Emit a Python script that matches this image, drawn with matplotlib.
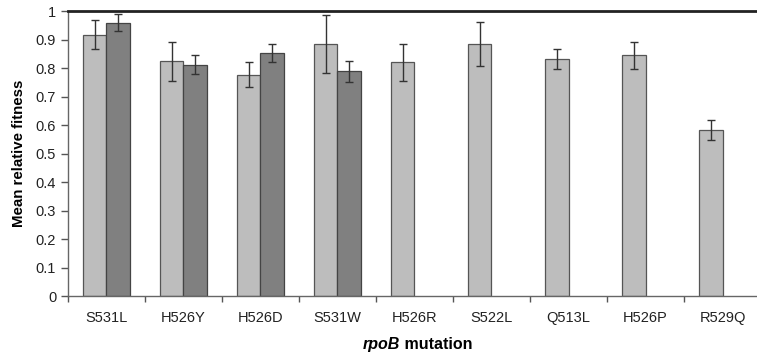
import numpy as np
import matplotlib.pyplot as plt

plt.rcParams['font.family'] = ['Liberation Sans', 'DejaVu Sans']

mutations = ["S531L", "H526Y", "H526D", "S531W", "H526R", "S522L", "Q513L", "H526P", "R529Q"]
light_vals = [0.917, 0.824, 0.777, 0.884, 0.820, 0.884, 0.831, 0.844, 0.584]
light_err = [0.050, 0.068, 0.043, 0.103, 0.065, 0.077, 0.036, 0.046, 0.035]
dark_vals = [0.959, 0.812, 0.853, 0.788]
dark_err = [0.029, 0.032, 0.031, 0.037]

fig = plt.figure(figsize=(7.57, 3.61), dpi=100)
ax = fig.add_axes([0.0898, 0.18, 0.9155, 0.7895])

x = np.arange(len(mutations))
w = 0.3
err_kw = dict(ecolor="#333333", elinewidth=1, capsize=3, capthick=1)
ax.bar(x - w / 2, light_vals, w, yerr=light_err, color="#bdbdbd",
       edgecolor="#555555", linewidth=0.9, error_kw=err_kw, zorder=2)
xd = np.arange(len(dark_vals))
ax.bar(xd + w / 2, dark_vals, w, yerr=dark_err, color="#808080",
       edgecolor="#444444", linewidth=0.9, error_kw=err_kw, zorder=2)

ax.set_xlim(-0.5, len(mutations) - 0.5)
ax.set_ylim(0, 1)
ax.set_yticks(np.arange(0, 1.01, 0.1))
ax.set_yticklabels(["0"] + ["%.1f" % v for v in np.arange(0.1, 0.95, 0.1)] + ["1"])
ax.set_xticks(x)
ax.set_xticklabels(mutations)
ax.set_xticks(np.arange(-0.5, len(mutations), 1.0), minor=True)
ax.tick_params(axis="x", which="major", length=0, pad=11, labelsize=10.5, colors="#222222")
ax.tick_params(axis="x", which="minor", length=4, width=1, color="#555555")
ax.tick_params(axis="y", length=5, width=1, color="#555555", labelsize=10.5, labelcolor="#222222")

for s in ["left", "bottom"]:
    ax.spines[s].set_color("#666666")
    ax.spines[s].set_linewidth(1)
ax.spines["right"].set_visible(False)
ax.spines["top"].set_color("#222222")
ax.spines["top"].set_linewidth(2)

ax.set_ylabel("Mean relative fitness", fontsize=10.8, fontweight="bold", labelpad=7)
fig.text(0.528, 0.033, "rpoB", fontsize=11.5, fontweight="bold", fontstyle="italic",
         ha="right", va="baseline")
fig.text(0.528, 0.033, " mutation", fontsize=11.5, fontweight="bold", ha="left", va="baseline")

fig.savefig("out.png", dpi=100)
